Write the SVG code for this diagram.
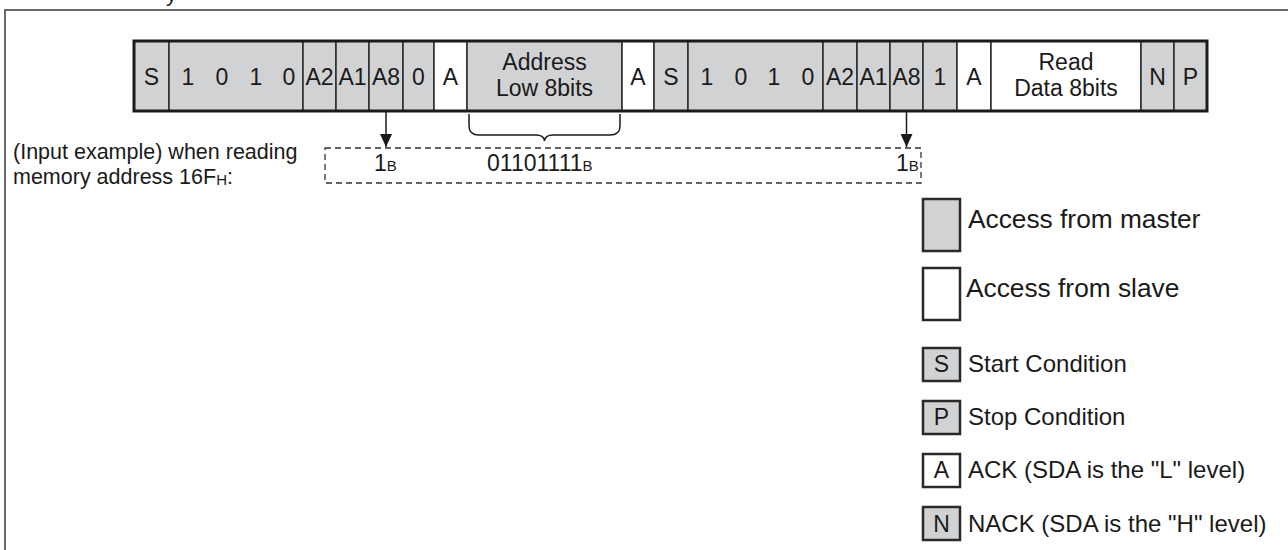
<svg xmlns="http://www.w3.org/2000/svg" width="1288" height="550" viewBox="0 0 1288 550">
<style>
  text { font-family: "Liberation Sans", Arial, sans-serif; fill: #1a1a1a; }
  .c { font-size: 23px; text-anchor: middle; }
  .m { fill: #d1d2d4; stroke: #2a2a2a; stroke-width: 1.5; }
  .s { fill: #ffffff; stroke: #2a2a2a; stroke-width: 1.5; }
  .lg { fill: #d1d2d4; stroke: #2a2a2a; stroke-width: 2.5; }
  .lw { fill: #ffffff; stroke: #2a2a2a; stroke-width: 2.5; }
  .big { font-size: 26.3px; }
  .small { font-size: 24px; }
  .ex { font-size: 23px; }
  .sub { font-size: 15px; }
  .note { font-size: 21.5px; }
</style>
<defs>
  <marker id="ah" viewBox="0 -6 13 12" refX="13" refY="0" markerWidth="13" markerHeight="12" markerUnits="userSpaceOnUse" orient="auto">
    <path d="M0,-6 L13,0 L0,6 z" fill="#1a1a1a"/>
  </marker>
</defs>
<rect x="0" y="0" width="1288" height="550" fill="#ffffff"/>
<text x="166" y="1" font-size="22">y</text>
<path d="M5,550 V10 H1288" fill="none" stroke="#3a3a3a" stroke-width="1.5"/>

<g id="frame-bits">
  <g id="cell-s1"><rect class="m" x="134" y="41" width="35" height="70"/><text class="c" x="151.5" y="85">S</text></g>
  <g id="cell-dev1"><rect class="m" x="169" y="41" width="134" height="70"/>
    <text class="c" x="188" y="85">1</text><text class="c" x="222" y="85">0</text><text class="c" x="256" y="85">1</text><text class="c" x="289" y="85">0</text></g>
  <g id="cell-a2-1"><rect class="m" x="303" y="41" width="33" height="70"/><text class="c" x="319.5" y="85">A2</text></g>
  <g id="cell-a1-1"><rect class="m" x="336" y="41" width="33" height="70"/><text class="c" x="352.5" y="85">A1</text></g>
  <g id="cell-a8-1"><rect class="m" x="369" y="41" width="34" height="70"/><text class="c" x="386" y="85">A8</text></g>
  <g id="cell-rw0"><rect class="m" x="403" y="41" width="31" height="70"/><text class="c" x="418.5" y="85">0</text></g>
  <g id="cell-ack1"><rect class="s" x="434" y="41" width="33" height="70"/><text class="c" x="450.5" y="85">A</text></g>
  <g id="cell-addr"><rect class="m" x="467" y="41" width="155" height="70"/><text class="c" x="544.5" y="70">Address</text><text class="c" x="544.5" y="96">Low 8bits</text></g>
  <g id="cell-ack2"><rect class="s" x="622" y="41" width="32" height="70"/><text class="c" x="638" y="85">A</text></g>
  <g id="cell-s2"><rect class="m" x="654" y="41" width="34" height="70"/><text class="c" x="671" y="85">S</text></g>
  <g id="cell-dev2"><rect class="m" x="688" y="41" width="135" height="70"/>
    <text class="c" x="707" y="85">1</text><text class="c" x="741" y="85">0</text><text class="c" x="774" y="85">1</text><text class="c" x="808" y="85">0</text></g>
  <g id="cell-a2-2"><rect class="m" x="823" y="41" width="34" height="70"/><text class="c" x="840" y="85">A2</text></g>
  <g id="cell-a1-2"><rect class="m" x="857" y="41" width="33" height="70"/><text class="c" x="873.5" y="85">A1</text></g>
  <g id="cell-a8-2"><rect class="m" x="890" y="41" width="33" height="70"/><text class="c" x="906.5" y="85">A8</text></g>
  <g id="cell-rw1"><rect class="m" x="923" y="41" width="34" height="70"/><text class="c" x="940" y="85">1</text></g>
  <g id="cell-ack3"><rect class="s" x="957" y="41" width="34" height="70"/><text class="c" x="974" y="85">A</text></g>
  <g id="cell-read"><rect class="s" x="991" y="41" width="150" height="70"/><text class="c" x="1066" y="70">Read</text><text class="c" x="1066" y="96">Data 8bits</text></g>
  <g id="cell-nack"><rect class="m" x="1141" y="41" width="33" height="70"/><text class="c" x="1157.5" y="85">N</text></g>
  <g id="cell-p"><rect class="m" x="1174" y="41" width="33" height="70"/><text class="c" x="1190.5" y="85">P</text></g>
  <rect x="134" y="41" width="1073" height="70" fill="none" stroke="#1a1a1a" stroke-width="3"/>
</g>

<g id="connectors" fill="none" stroke="#1a1a1a" stroke-width="1.5">
  <line x1="386" y1="111" x2="386" y2="147" marker-end="url(#ah)"/>
  <line x1="906.5" y1="111" x2="906.5" y2="147" marker-end="url(#ah)"/>
  <path d="M469,114 V126 Q469,135 479,135 H536 Q544,135 544.5,141 Q545,135 553,135 H610 Q620,135 620,126 V114"/>
</g>

<g id="example">
  <text class="note" x="13" y="159">(Input example) when reading</text>
  <text class="note" x="13" y="184">memory address 16F<tspan class="sub" dy="1">H</tspan><tspan dy="-1">:</tspan></text>
  <rect x="325" y="148" width="596" height="35" fill="none" stroke="#333333" stroke-width="1.3" stroke-dasharray="6 4"/>
  <text class="ex" x="374" y="171">1<tspan class="sub">B</tspan></text>
  <text class="ex" x="487" y="171">01101111<tspan class="sub">B</tspan></text>
  <text class="ex" x="896" y="171">1<tspan class="sub">B</tspan></text>
</g>

<g id="legend-master"><rect class="lg" x="923" y="199" width="37" height="52"/><text class="big" x="968" y="228">Access from master</text></g>
<g id="legend-slave"><rect class="lw" x="923" y="268" width="37" height="52"/><text class="big" x="966" y="297">Access from slave</text></g>
<g id="legend-start"><rect class="lg" x="923" y="348" width="37" height="33"/><text class="c" x="941.5" y="372">S</text><text class="small" x="968" y="372">Start Condition</text></g>
<g id="legend-stop"><rect class="lg" x="923" y="401" width="37" height="33"/><text class="c" x="941.5" y="425">P</text><text class="small" x="968" y="425">Stop Condition</text></g>
<g id="legend-ack"><rect class="lw" x="923" y="454" width="37" height="33"/><text class="c" x="941.5" y="478">A</text><text class="small" x="968" y="478">ACK (SDA is the "L" level)</text></g>
<g id="legend-nack"><rect class="lg" x="923" y="507" width="37" height="33"/><text class="c" x="941.5" y="532">N</text><text class="small" x="968" y="532">NACK (SDA is the "H" level)</text></g>
</svg>
